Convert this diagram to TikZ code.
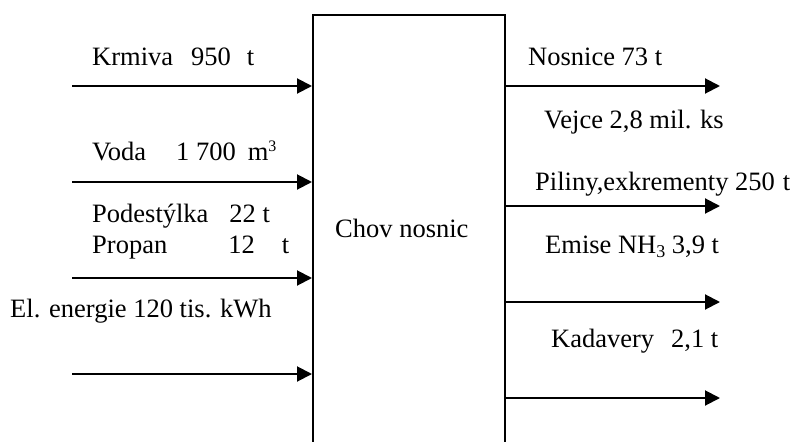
\documentclass[tikz,border=0pt]{standalone}
\usepackage{fontspec}
\setmainfont{Liberation Serif}
\usetikzlibrary{arrows.meta}
\newcommand{\mysup}[1]{\raisebox{9pt}{\fontsize{16}{16}\selectfont #1}}
\newcommand{\mysub}[1]{\raisebox{-4pt}{\fontsize{18}{18}\selectfont #1}}
\begin{document}
\begin{tikzpicture}[x=1pt,y=-1pt,
  arr/.style={line width=2pt,-{Triangle[length=15pt,width=15pt]}},
  lbl/.style={anchor=base west,inner sep=0pt,font=\fontsize{26.5}{30}\selectfont},
  boxst/.style={draw,line width=2pt,minimum width=192pt,minimum height=470pt,anchor=north,inner sep=0pt}]
\useasboundingbox (0,0) rectangle (801,442);
\clip (0,0) rectangle (801,442);
\node[boxst] (box) at (409,14) {};
\node[lbl] (chov) at (335,237) {Chov nosnic};
% inputs
\coordinate (i1) at (72,86);
\coordinate (i2) at (72,182);
\coordinate (i3) at (72,278);
\coordinate (i4) at (72,374);
\draw[arr] (i1) -- (i1 -| box.west);
\draw[arr] (i2) -- (i2 -| box.west);
\draw[arr] (i3) -- (i3 -| box.west);
\draw[arr] (i4) -- (i4 -| box.west);
% outputs
\coordinate (o1) at (720,86);
\coordinate (o2) at (720,206);
\coordinate (o3) at (720,302);
\coordinate (o4) at (720,398);
\draw[arr] (o1 -| box.east) -- (o1);
\draw[arr] (o2 -| box.east) -- (o2);
\draw[arr] (o3 -| box.east) -- (o3);
\draw[arr] (o4 -| box.east) -- (o4);
% input labels
\node[lbl] (t1) at (92,65) {Krmiva\hspace{18pt}950\hspace{16pt}t};
\node[lbl] (t2) at (92,160) {Voda\hspace{30pt}1 700\hspace{12pt}m\mysup{3}};
\node[lbl] (t3) at (92,222) {Podestýlka\hspace{21pt}22 t};
\node[lbl] (t4) at (92,253) {Propan\hspace{61pt}12\hspace{27pt}t};
\node[lbl] (t5) at (10,317) {El. energie 120 tis. kWh};
% output labels
\node[lbl] (u1) at (528,65) {Nosnice 73 t};
\node[lbl] (u2) at (544,128) {Vejce 2,8 mil. ks};
\node[lbl] (u3) at (535,190) {Piliny,exkrementy 250\hspace{8pt}t};
\node[lbl] (u4) at (545,253) {Emise NH\mysub{3} 3,9 t};
\node[lbl] (u5) at (551,347) {Kadavery\hspace{17pt}2,1 t};
\end{tikzpicture}
\end{document}
